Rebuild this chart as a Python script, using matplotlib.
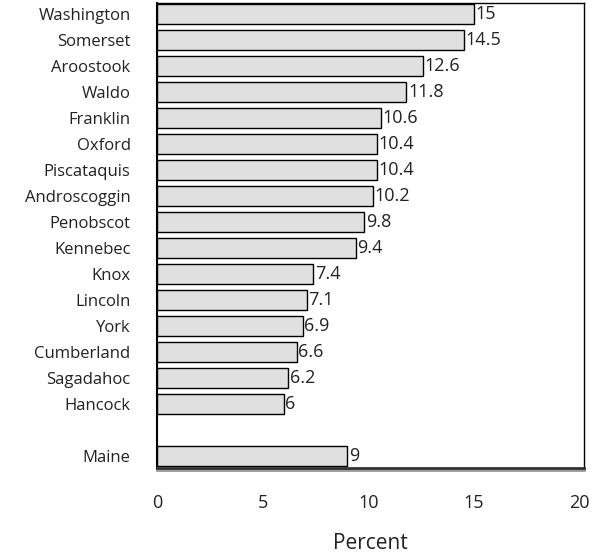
import matplotlib.pyplot as plt
import matplotlib.patheffects as pe
from matplotlib.transforms import offset_copy

# ---------- DADOS ----------
counties = ["Washington", "Somerset", "Aroostook", "Waldo", "Franklin", "Oxford",
            "Piscataquis", "Androscoggin", "Penobscot", "Kennebec", "Knox", "Lincoln",
            "York", "Cumberland", "Sagadahoc", "Hancock"]
values = [15, 14.5, 12.6, 11.8, 10.6, 10.4, 10.4, 10.2, 9.8, 9.4, 7.4, 7.1, 6.9, 6.6, 6.2, 6]
state_label = "Maine"
state_value = 9
xticks = [0, 5, 10, 15, 20]

C_BAR = "#E0E0E0"
C_TXT = "#222222"
plt.rcParams.update({"font.family": ["Open Sans", "DejaVu Sans"], "font.size": 12,
                     "text.color": C_TXT,
                     "xtick.color": C_TXT, "ytick.color": C_TXT, "axes.labelcolor": C_TXT})

labels = counties + [state_label]
vals = values + [state_value]
pos = list(range(len(counties))) + [len(counties) + 1]

fig = plt.figure(figsize=(5.95, 5.56), dpi=100)
ax = fig.add_axes([157/595, 1 - 468/556, (584-157)/595, (468-3)/556])

ax.barh(pos, vals, height=0.77, color=C_BAR, edgecolor="black", linewidth=1)
tr = offset_copy(ax.transData, fig=fig, x=1.5, y=0, units="dots")
for p, v in zip(pos, vals):
    ax.text(v, p, f"{v:g}", va="center", ha="left", fontsize=13, transform=tr)

ax.set_xlim(0, 20.2)
ax.set_ylim(17.46, -0.42)
ax.set_xticks(xticks)
ax.set_xticklabels([str(t) for t in xticks], fontsize=13)
ax.set_yticks(pos)
ax.set_yticklabels(labels, fontsize=12)
ax.tick_params(axis="both", length=0)
ax.tick_params(axis="y", pad=19)
ax.tick_params(axis="x", pad=19)
ax.set_xlabel("Percent", fontsize=15, labelpad=15)

for s in ("top", "right", "left"):
    ax.spines[s].set_linewidth(1)
ax.spines["left"].set_linewidth(1.5)
ax.spines["bottom"].set_linewidth(2)
ax.spines["bottom"].set_color("#333333")
ax.spines["bottom"].set_path_effects([pe.SimpleLineShadow(offset=(0, -1.2), shadow_color="#999999", alpha=1),
                                      pe.Normal()])

fig.savefig("out.png", dpi=100)
